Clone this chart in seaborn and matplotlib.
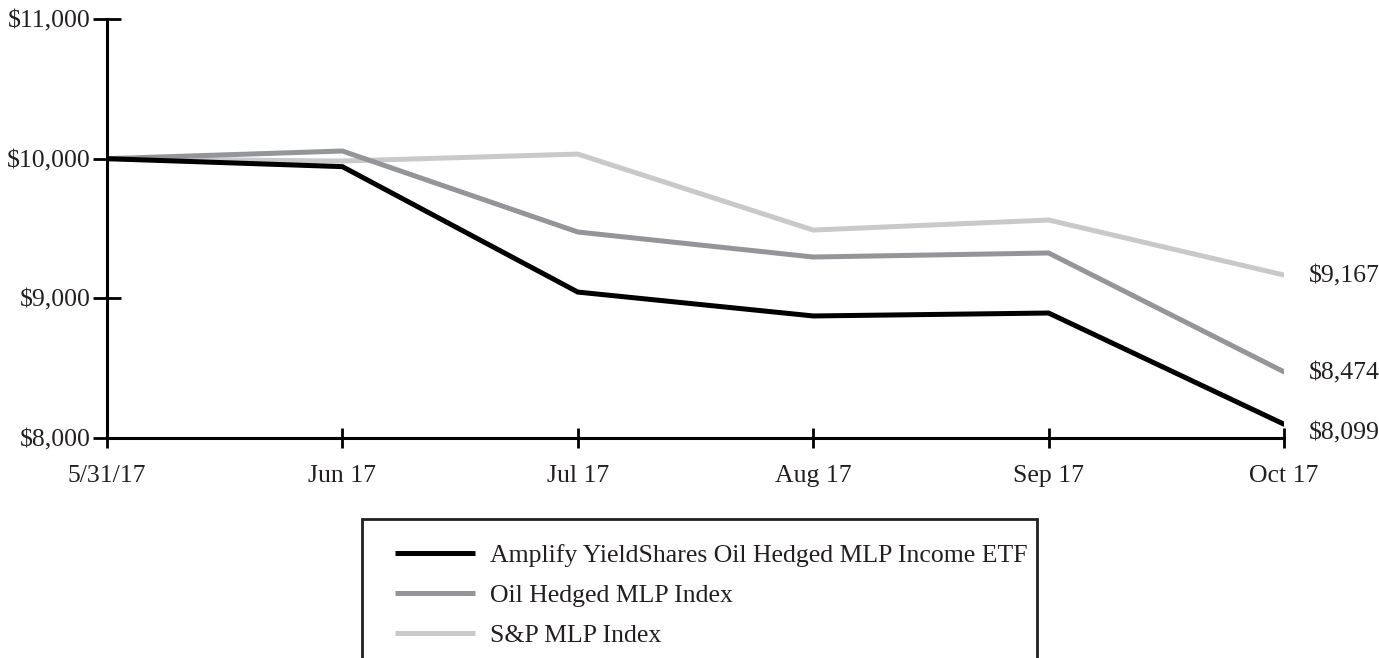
import pandas as pd
import seaborn as sns
import matplotlib.pyplot as plt
from matplotlib.patches import Rectangle

months = ["5/31/17", "Jun 17", "Jul 17", "Aug 17", "Sep 17", "Oct 17"]
etf = [10000, 9943, 9045, 8874, 8895, 8099]
oil_index = [10000, 10055, 9475, 9296, 9325, 8474]
sp_index = [10000, 9983, 10033, 9489, 9561, 9167]

names = ["Amplify YieldShares Oil Hedged MLP Income ETF",
         "Oil Hedged MLP Index",
         "S&P MLP Index"]
colors = ["#000000", "#939598", "#c8c9cb"]
end_labels = ["$8,099", "$8,474", "$9,167"]

rows = []
for name, vals in zip(names, [etf, oil_index, sp_index]):
    for m, v in zip(months, vals):
        rows.append({"month": m, "value": v, "series": name})
data = pd.DataFrame(rows)

sns.set_style("white")
plt.rcParams["font.family"] = ["Liberation Serif", "DejaVu Serif"]
text_color = "#231f20"
fs = 18.5

fig = plt.figure(figsize=(13.79, 6.58), dpi=100)
ax = fig.add_axes([0.0776, 0.3343, 0.8535, 0.6368])

# draw light first so the black line sits on top
draw_order = names[::-1]
sns.lineplot(data=data, x="month", y="value", hue="series",
             hue_order=draw_order, palette=colors[::-1],
             linewidth=3.6, sort=False, ax=ax, legend=False)
for line in ax.lines:
    line.set_solid_capstyle("round")
    line.set_solid_joinstyle("miter")

ax.set_xlim(0, len(months) - 1)
ax.set_ylim(8000, 11000)
ax.set_yticks([8000, 9000, 10000, 11000])
ax.set_yticklabels(["$8,000", "$9,000", "$10,000", "$11,000"])
ax.set_xlabel("")
ax.set_ylabel("")

for s in ["top", "right"]:
    ax.spines[s].set_visible(False)
for s in ["left", "bottom"]:
    ax.spines[s].set_linewidth(2.2)
    ax.spines[s].set_color("#000000")

ax.tick_params(axis="y", direction="inout", length=20, width=2, pad=2,
               labelsize=fs, colors="#000000", labelcolor=text_color, left=True)
ax.tick_params(axis="x", direction="inout", length=15, width=2, pad=12,
               labelsize=fs, colors="#000000", labelcolor=text_color, bottom=True)

# end-of-line value labels
offsets = [-7, -1, -1]
for vals, lab, off in zip([etf, oil_index, sp_index], end_labels, offsets):
    ax.annotate(lab, xy=(len(months) - 1, vals[-1]), xytext=(18, off),
                textcoords="offset points", va="center", ha="left",
                fontsize=fs, color=text_color, annotation_clip=False)

# legend box, cut off by the bottom of the figure
fig.patches.append(Rectangle((362 / 1379, -0.05), (1037 - 362) / 1379,
                             1 - 519 / 658 + 0.05, transform=fig.transFigure,
                             fill=False, edgecolor="#231f20", linewidth=2))
handles = [plt.Line2D([], [], color=c, linewidth=3.6, solid_capstyle="butt")
           for c in colors]
fig.legend(handles, names, loc="upper left",
           bbox_to_anchor=(395 / 1379, 1 - 544 / 658), frameon=False,
           fontsize=fs, handlelength=3.1, handletextpad=0.58,
           labelspacing=0.67, labelcolor=text_color,
           borderaxespad=0, borderpad=0)

plt.savefig("out.png", dpi=100)
